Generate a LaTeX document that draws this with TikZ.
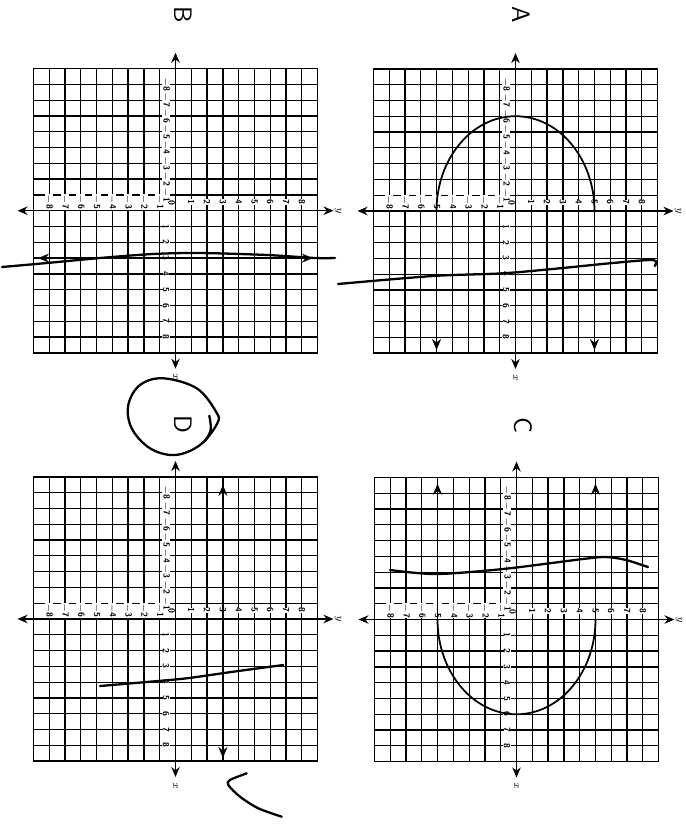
\documentclass[tikz,border=0pt]{standalone}
\usepackage{tikz}
\usetikzlibrary{arrows.meta}
\tikzset{
  rejilla/.style={line width=0.7pt, draw=black},
  borde/.style={line width=0.9pt, draw=black},
  eje/.style={line width=0.8pt, {Stealth[length=2mm,width=1.7mm]}-{Stealth[length=2mm,width=1.7mm]}},
  curva/.style={line width=1pt},
  punta/.style={-{Stealth[length=2.2mm,width=1.8mm]}},
  puntas/.style={{Stealth[length=2.2mm,width=1.8mm]}-{Stealth[length=2.2mm,width=1.8mm]}},
  lapiz/.style={line width=1.3pt, line cap=round, line join=round},
  num/.style={rotate=-90, font=\fontsize{5}{5}\selectfont\sffamily\bfseries, fill=white, inner sep=0.2pt},
  etqeje/.style={rotate=-90, font=\fontsize{6}{6}\selectfont\itshape, inner sep=0.3pt},
  letra/.style={rotate=-90, font=\Large\sffamily},
  plano/.pic={
    \draw[rejilla, step=1] (-9,-9) grid (9,9);
    \draw[borde] (-9,-9) rectangle (9,9);
    \foreach \k in {1,...,8} {
      \node[num] (h\k) at (\k,0.55) {\k};
      \node[num] (hm\k) at (-\k,0.55) {$-$\k};
      \node[num] (v\k) at (-0.6,-\k) {\k};
      \node[num] (vm\k) at (-0.6,\k) {$-$\k};
    }
    \node[num] (cero) at (-0.25,0.5) {0};
    \draw[eje] (-10,0) -- (10,0);
    \draw[eje] (0,10) -- (0,-10);
    \node[etqeje] (y) at (10.3,0) {y};
    \node[etqeje] (x) at (0,-10.5) {x};
  },
}

\begin{document}
\begin{tikzpicture}[x=0.02cm, y=-0.02cm]
  \useasboundingbox (0,0) rectangle (686,825);

  % letras de cada grafica
  \node[letra] (etqA) at (521,15) {A};
  \node[letra] (etqB) at (183,15) {B};
  \node[letra] (etqC) at (523,425) {C};
  \node[letra] (etqD) at (183,424) {D};

  % A
  \begin{scope}[shift={(515.5,211)}, x=0.316cm, y=0.316cm]
    \pic (A) {plano};
    \draw[curva] (5,0) arc[start angle=0, end angle=180, x radius=5, y radius=6];
    \draw[curva, punta] (-5,0) -- (-5,-8.8);
    \draw[curva, punta] (5,0) -- (5,-8.8);
  \end{scope}

  % B
  \begin{scope}[shift={(175.5,210.7)}, x=0.316cm, y=0.316cm]
    \pic (B) {plano};
    \draw[curva, puntas] (-8.7,-3) -- (8.7,-3);
  \end{scope}

  % C
  \begin{scope}[shift={(516.5,619.5)}, x=0.316cm, y=0.316cm]
    \pic (C) {plano};
    \draw[curva] (-5,0) arc[start angle=180, end angle=360, x radius=5, y radius=6];
    \draw[curva, punta] (-5,0) -- (-5,8.6);
    \draw[curva, punta] (5,0) -- (5,8.6);
  \end{scope}

  % D
  \begin{scope}[shift={(175.5,619)}, x=0.316cm, y=0.316cm]
    \pic (D) {plano};
    \draw[curva, puntas] (3,8.5) -- (3,-8.8);
  \end{scope}

  % trazos a mano
  \draw[lapiz] plot[smooth, tension=0.5] coordinates {(338,284) (433,276) (503,273.3) (559.7,268.3) (609.7,263.3) (653,260) (654.7,266)};
  \draw[lapiz] plot[smooth, tension=0.5] coordinates {(2,267) (47,263) (100,258) (153,254) (200,253) (267,255) (315,258) (335,258)};
  \draw[lapiz] plot[smooth, tension=0.5] coordinates {(390,570) (436,574) (503,569) (583,559) (606,557) (626,560) (648,567)};
  \draw[lapiz] plot[smooth, tension=0.5] coordinates {(100,686) (150,681.7) (186.7,678.3) (233.3,671.7) (283.3,665)};
  \draw[lapiz] plot[smooth cycle, tension=0.6] coordinates {(163.3,378.3) (196.7,388.3) (216,411.7) (217.3,423.3) (200,445) (175,455) (150,448.3) (131.7,428.3) (128.3,405) (140,385)};
  \draw[lapiz] plot[smooth, tension=0.6] coordinates {(209.3,415.7) (210.7,430) (205,441)};
  \draw[lapiz] plot[smooth, tension=0.5] coordinates {(246.7,773.3) (230,780) (228.3,785) (240,796.7) (258.3,808.3) (281.7,816.7)};
\end{tikzpicture}
\end{document}
